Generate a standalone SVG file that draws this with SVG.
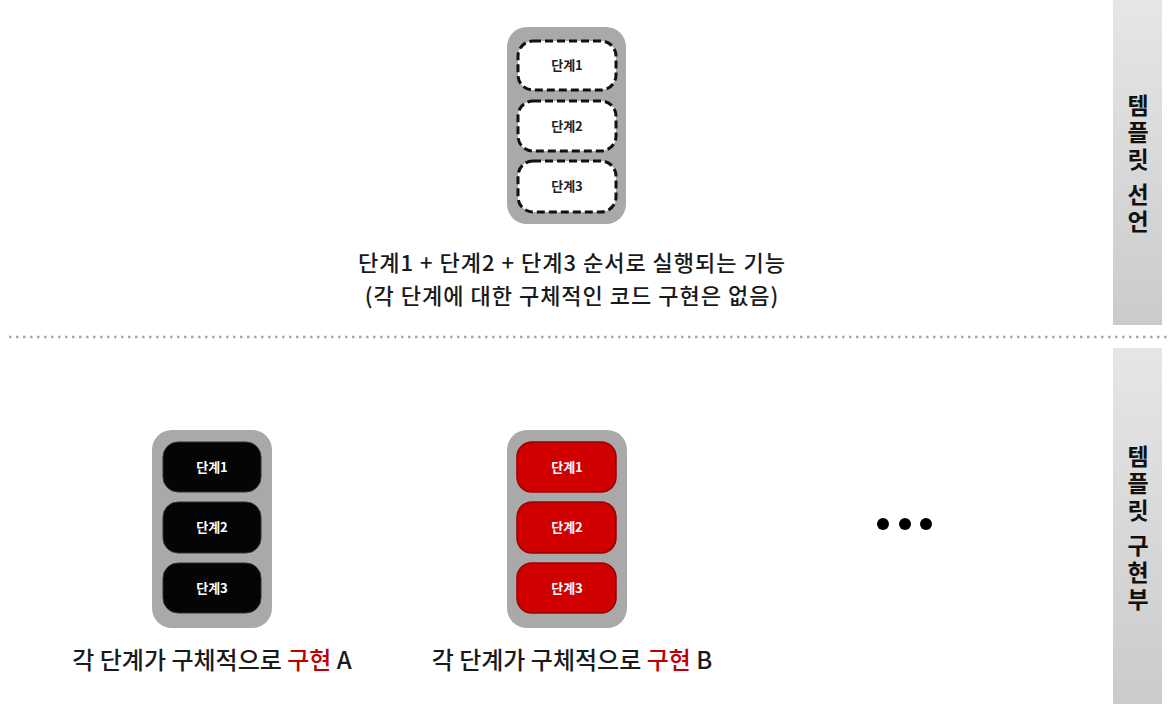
<svg xmlns="http://www.w3.org/2000/svg" width="1168" height="704" viewBox="0 0 1168 704">
<defs>
<linearGradient id="bar" x1="0" y1="0" x2="0" y2="1">
<stop offset="0" stop-color="#e6e6e6"/>
<stop offset="1" stop-color="#cbcbcb"/>
</linearGradient>
<style>
.cont{fill:#a9a9a9;}
.dash{fill:#ffffff;stroke:#111;stroke-width:3;stroke-dasharray:8 4;}
.blk{fill:#050505;stroke:#333;stroke-width:1;}
.red{fill:#d00000;stroke:#9a0000;stroke-width:1.5;}
.lbl{font-family:"Noto Sans CJK KR","Noto Sans",sans-serif;font-size:13px;font-weight:700;text-anchor:middle;}
.main{font-family:"Noto Sans CJK KR","Noto Sans",sans-serif;font-size:22px;font-weight:500;fill:#1a1a1a;text-anchor:middle;letter-spacing:1px;}
.bot{font-family:"Noto Sans CJK KR","Noto Sans",sans-serif;font-size:24px;font-weight:500;fill:#1a1a1a;text-anchor:middle;}
.side{font-family:"Noto Sans CJK KR","Noto Sans",sans-serif;font-size:23px;font-weight:700;fill:#111;text-anchor:middle;writing-mode:vertical-rl;text-orientation:upright;letter-spacing:4px;}
</style>
</defs>
<rect width="1168" height="704" fill="#ffffff"/>

<g id="sidebar-declare">
<rect x="1113" y="0" width="49" height="325" fill="url(#bar)"/>
<text class="side" x="1138" y="165">템플릿&#x2006;선언</text>
</g>
<g id="sidebar-impl">
<rect x="1113" y="348" width="49" height="356" fill="url(#bar)"/>
<text class="side" x="1138" y="530">템플릿&#x2006;구현부</text>
</g>

<line x1="9" y1="337" x2="1168" y2="337" stroke="#a8a8a8" stroke-width="2.5" stroke-dasharray="2.5 4.5"/>

<g id="template">
<rect class="cont" x="507" y="27" width="119" height="197" rx="20"/>
<rect class="dash" x="518" y="41" width="98" height="49" rx="15"/>
<text class="lbl" x="567" y="70" fill="#222">단계1</text>
<rect class="dash" x="518" y="101" width="98" height="50" rx="15"/>
<text class="lbl" x="567" y="131" fill="#222">단계2</text>
<rect class="dash" x="518" y="161" width="98" height="51" rx="15"/>
<text class="lbl" x="567" y="191" fill="#222">단계3</text>
</g>
<g id="template-desc">
<text class="main" x="572" y="271">단계1 + 단계2 + 단계3 순서로 실행되는 기능</text>
<text class="main" x="572" y="304">(각 단계에 대한 구체적인 코드 구현은 없음)</text>
</g>

<g id="impl-a">
<rect class="cont" x="152" y="430" width="120" height="198" rx="20"/>
<rect class="blk" x="163" y="442" width="98" height="50" rx="15"/>
<text class="lbl" x="212" y="472" fill="#fff">단계1</text>
<rect class="blk" x="163" y="502" width="98" height="51" rx="15"/>
<text class="lbl" x="212" y="532" fill="#fff">단계2</text>
<rect class="blk" x="163" y="563" width="98" height="50" rx="15"/>
<text class="lbl" x="212" y="593" fill="#fff">단계3</text>
<text class="bot" x="212" y="669">각 단계가 구체적으로 <tspan fill="#c00000">구현</tspan> A</text>
</g>

<g id="impl-b">
<rect class="cont" x="507" y="430" width="120" height="198" rx="20"/>
<rect class="red" x="517" y="442" width="99" height="50" rx="15"/>
<text class="lbl" x="567" y="472" fill="#fff">단계1</text>
<rect class="red" x="517" y="502" width="99" height="51" rx="15"/>
<text class="lbl" x="567" y="532" fill="#fff">단계2</text>
<rect class="red" x="517" y="563" width="99" height="50" rx="15"/>
<text class="lbl" x="567" y="593" fill="#fff">단계3</text>
<text class="bot" x="572" y="669">각 단계가 구체적으로 <tspan fill="#c00000">구현</tspan> B</text>
</g>

<g id="more">
<circle cx="883" cy="524" r="6" fill="#000"/>
<circle cx="905" cy="524" r="6" fill="#000"/>
<circle cx="926" cy="524" r="6" fill="#000"/>
</g>
<g id="connectors"></g>
</svg>
